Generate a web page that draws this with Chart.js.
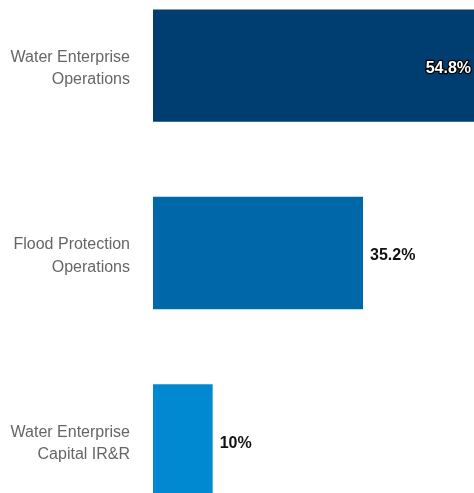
<!DOCTYPE html>
<html>
<head>
<meta charset="utf-8">
<script src="https://cdn.jsdelivr.net/npm/chart.js@4"></script>
<style>
  html, body { margin: 0; padding: 0; background: #fff; overflow: hidden; width: 474px; height: 493px; }
  #wrap { position: absolute; left: 0; top: -28px; width: 474px; height: 562px; }
</style>
</head>
<body>
<div id="wrap"><canvas id="chart" width="474" height="562"></canvas></div>
<script>
// Share of spending by program area (percent)
const categories = [
  ["Water Enterprise", "Operations"],
  ["Flood Protection", "Operations"],
  ["Water Enterprise", "Capital IR&R"]
];
const shares = [54.8, 35.2, 10];
const barColors = ["#003d71", "#0067a8", "#0089d0"];

const FONT = "'Liberation Sans', Arial, Helvetica, sans-serif";

// Writes the percentage next to each bar; when it doesn't fit outside,
// it goes inside the bar end in white with a dark outline.
const valueLabels = {
  id: "valueLabels",
  afterDatasetsDraw(chart) {
    const ctx = chart.ctx;
    const area = chart.chartArea;
    const meta = chart.getDatasetMeta(0);
    ctx.save();
    ctx.font = "bold 16px " + FONT;
    ctx.textBaseline = "middle";
    meta.data.forEach((bar, i) => {
      const text = shares[i] + "%";
      const w = ctx.measureText(text).width;
      const end = bar.x;
      const y = bar.y + 3;
      if (end + 7 + w <= area.right) {
        ctx.textAlign = "left";
        ctx.fillStyle = "#111";
        ctx.fillText(text, end + 7, y);
      } else {
        const x = Math.min(end, area.right) - 3;
        ctx.textAlign = "right";
        ctx.lineJoin = "round";
        ctx.lineWidth = 2.5;
        ctx.strokeStyle = "#000";
        ctx.strokeText(text, x, y);
        ctx.fillStyle = "#fff";
        ctx.fillText(text, x, y);
      }
    });
    ctx.restore();
  }
};

new Chart(document.getElementById("chart"), {
  type: "bar",
  data: {
    labels: categories,
    datasets: [{
      data: shares,
      backgroundColor: barColors,
      borderWidth: 0,
      barPercentage: 1,
      categoryPercentage: 0.6
    }]
  },
  options: {
    indexAxis: "y",
    responsive: false,
    animation: false,
    layout: { padding: 0 },
    plugins: { legend: { display: false }, tooltip: { enabled: false } },
    scales: {
      x: { display: false, min: 0, max: 53.8 },
      y: {
        grid: { display: false, drawTicks: false },
        border: { display: false },
        ticks: {
          padding: 23,
          labelOffset: 3,
          color: "#666",
          font: { family: FONT, size: 16, lineHeight: 1.4 }
        },
        afterFit(scale) {
          scale.width = 153;
          scale.paddingTop = 0;
          scale.paddingBottom = 0;
        }
      }
    }
  },
  plugins: [valueLabels]
});
</script>
</body>
</html>
